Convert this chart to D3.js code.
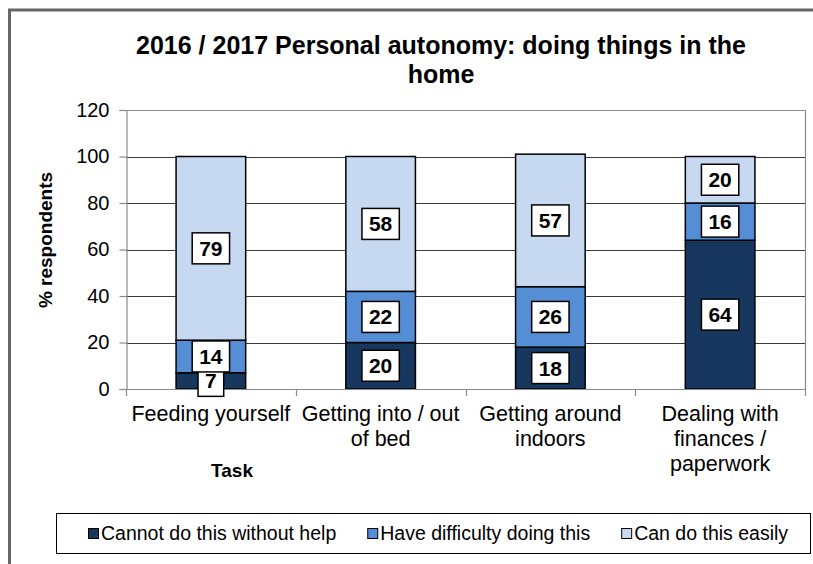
<!DOCTYPE html>
<html>
<head>
<meta charset="utf-8">
<script src="https://cdn.jsdelivr.net/npm/d3@7"></script>
<style>
  html, body { margin: 0; padding: 0; background: #fff; }
  svg { display: block; font-family: Arial, "Liberation Sans", sans-serif; }
</style>
</head>
<body>
<svg id="chart" width="813" height="564"></svg>
<script>
// Tasks (x categories)
const tasks = [
  ["Feeding yourself"],
  ["Getting into / out", "of bed"],
  ["Getting around", "indoors"],
  ["Dealing with", "finances /", "paperwork"]
];
const taskKeys = ["Feeding yourself", "Getting into / out of bed", "Getting around indoors", "Dealing with finances / paperwork"];

// Series (stacked bottom to top)
const seriesNames = ["Cannot do this without help", "Have difficulty doing this", "Can do this easily"];
const cannotValues = [7, 20, 18, 64];
const difficultyValues = [14, 22, 26, 16];
const easilyValues = [79, 58, 57, 20];
const seriesColors = ["#17375e", "#558ed5", "#c6d9f1"];

// Axis ticks
const yTicks = [0, 20, 40, 60, 80, 100, 120];

const svg = d3.select("#chart");

// Chart frame
svg.append("rect")
  .attr("x", 9.5).attr("y", 10)
  .attr("width", 1000).attr("height", 1000)
  .attr("fill", "none")
  .attr("stroke", "#666").attr("stroke-width", 3);

const plot = { left: 126, right: 805, top: 110, bottom: 389 };

const x = d3.scaleBand()
  .domain(taskKeys)
  .range([plot.left, plot.right])
  .paddingInner(0.59)
  .paddingOuter(0.295);

const y = d3.scaleLinear()
  .domain([0, 120])
  .range([plot.bottom, plot.top]);

// Gridlines
svg.append("g")
  .selectAll("line")
  .data(yTicks.filter(t => t > 0 && t < 120))
  .join("line")
  .attr("x1", plot.left).attr("x2", plot.right)
  .attr("y1", d => Math.round(y(d)) + 0.5).attr("y2", d => Math.round(y(d)) + 0.5)
  .attr("stroke", "#3a3a3a").attr("stroke-width", 1);

// Plot area top / right border
svg.append("path")
  .attr("d", `M${plot.left},${Math.round(y(120)) + 0.5}H${plot.right + 0.5}V${plot.bottom}`)
  .attr("fill", "none")
  .attr("stroke", "#8a8a8a").attr("stroke-width", 1.2);

// Y axis
const yAxis = d3.axisLeft(y).tickValues(yTicks).tickSize(7).tickPadding(10);
const gy = svg.append("g")
  .attr("transform", `translate(${plot.left + 0.5},0)`)
  .call(yAxis);
gy.select(".domain").attr("stroke", "#8a8a8a").attr("stroke-width", 1.2);
gy.selectAll(".tick line").attr("stroke", "#8a8a8a").attr("stroke-width", 1.2);
gy.selectAll(".tick text")
  .attr("font-size", 20).attr("fill", "#000")
  .attr("font-family", "Arial, 'Liberation Sans', sans-serif");

// Stack data
const rows = taskKeys.map((k, i) => ({
  task: k,
  [seriesNames[0]]: cannotValues[i],
  [seriesNames[1]]: difficultyValues[i],
  [seriesNames[2]]: easilyValues[i]
}));
const stacked = d3.stack().keys(seriesNames)(rows);

// Bars
stacked.forEach((layer, si) => {
  svg.append("g")
    .selectAll("rect")
    .data(layer)
    .join("rect")
    .attr("x", d => x(d.data.task))
    .attr("y", d => y(d[1]))
    .attr("width", x.bandwidth())
    .attr("height", d => y(d[0]) - y(d[1]))
    .attr("fill", seriesColors[si])
    .attr("stroke", "#000").attr("stroke-width", 1.5);
});

// X axis
const xBounds = taskKeys.map(k => x(k) - x.step() * x.paddingInner() / 2).concat([plot.right]);
const gx = svg.append("g");
gx.append("line")
  .attr("x1", plot.left).attr("x2", plot.right + 0.5)
  .attr("y1", plot.bottom + 0.5).attr("y2", plot.bottom + 0.5)
  .attr("stroke", "#8a8a8a").attr("stroke-width", 1.2);
gx.selectAll("line.tk")
  .data(xBounds)
  .join("line")
  .attr("class", "tk")
  .attr("x1", d => Math.round(d) + 0.5).attr("x2", d => Math.round(d) + 0.5)
  .attr("y1", plot.bottom).attr("y2", plot.bottom + 7)
  .attr("stroke", "#8a8a8a").attr("stroke-width", 1.2);

// Value labels (boxed)
stacked.forEach((layer) => {
  const g = svg.append("g");
  layer.forEach(d => {
    const v = d[1] - d[0];
    const cx = x(d.data.task) + x.bandwidth() / 2;
    const cy = y((d[0] + d[1]) / 2);
    const lg = g.append("g");
    const box = lg.append("rect");
    const t = lg.append("text")
      .attr("x", cx).attr("y", cy + 7.5)
      .attr("text-anchor", "middle")
      .attr("font-size", 21).attr("font-weight", "bold")
      .attr("fill", "#000")
      .text(v);
    const w = t.node().getComputedTextLength() + 14;
    box.attr("x", cx - w / 2).attr("y", cy - 15.5)
      .attr("width", w).attr("height", 31)
      .attr("fill", "#fff").attr("stroke", "#000").attr("stroke-width", 1.5);
  });
});

// Category labels
const xl = svg.append("g");
tasks.forEach((lines, i) => {
  const cx = x(taskKeys[i]) + x.bandwidth() / 2;
  const t = xl.append("text")
    .attr("text-anchor", "middle")
    .attr("font-size", 21.5).attr("fill", "#000");
  lines.forEach((ln, j) => {
    t.append("tspan").attr("x", cx).attr("y", 421 + j * 25).text(ln);
  });
});

// Axis titles
svg.append("text")
  .attr("x", 232).attr("y", 477)
  .attr("text-anchor", "middle")
  .attr("font-size", 19).attr("font-weight", "bold")
  .text("Task");

svg.append("text")
  .attr("transform", "translate(52,240) rotate(-90)")
  .attr("text-anchor", "middle")
  .attr("font-size", 19).attr("font-weight", "bold")
  .text("% respondents");

// Title
const title = svg.append("text")
  .attr("text-anchor", "middle")
  .attr("font-size", 25).attr("font-weight", "bold");
title.append("tspan").attr("x", 441).attr("y", 54).text("2016 / 2017 Personal autonomy: doing things in the");
title.append("tspan").attr("x", 441).attr("y", 83).text("home");

// Legend
const legend = svg.append("g");
legend.append("rect")
  .attr("x", 56.5).attr("y", 513.5)
  .attr("width", 754).attr("height", 40)
  .attr("fill", "#fff").attr("stroke", "#000").attr("stroke-width", 1);
let lx = 88;
seriesNames.forEach((name, i) => {
  legend.append("rect")
    .attr("x", lx + 0.5).attr("y", 528.5)
    .attr("width", 10).attr("height", 10)
    .attr("fill", seriesColors[i]).attr("stroke", "#000").attr("stroke-width", 1);
  const t = legend.append("text")
    .attr("x", lx + 13).attr("y", 540)
    .attr("font-size", 19.5).attr("fill", "#000")
    .text(name);
  lx += 13 + t.node().getComputedTextLength() + 31;
});
</script>
</body>
</html>
